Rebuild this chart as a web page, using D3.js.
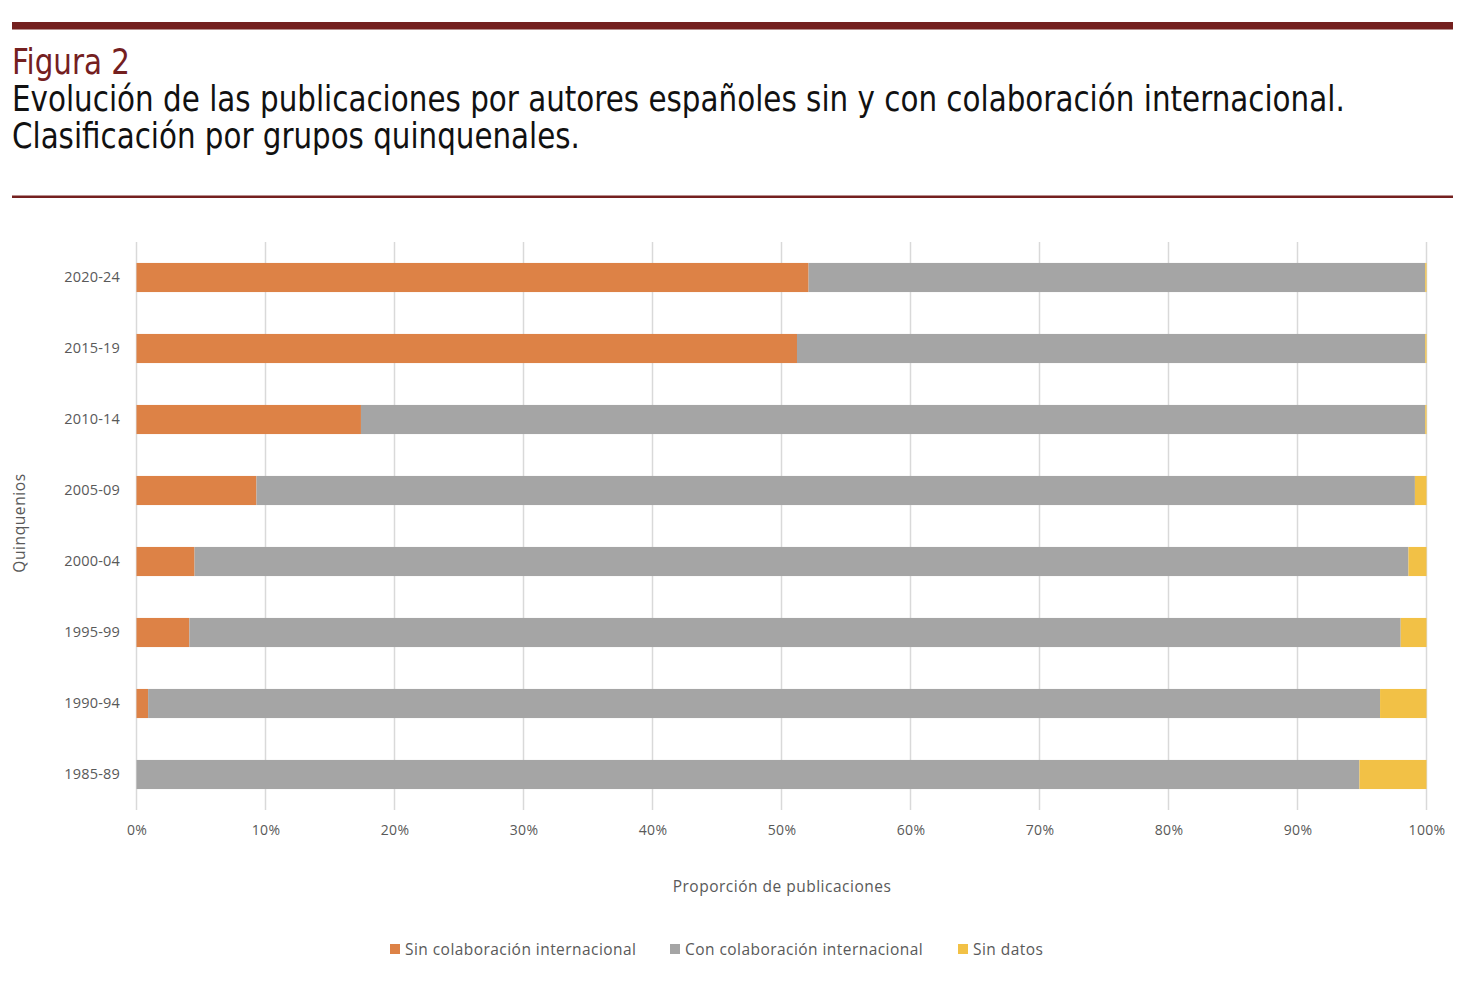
<!DOCTYPE html>
<html><head><meta charset="utf-8">
<script src="https://cdn.jsdelivr.net/npm/d3@7"></script>
<style>
html,body{margin:0;padding:0;background:#fff;}
svg{display:block;}
</style></head>
<body>
<svg id="chart" width="1464" height="984"></svg>
<script>
const categories = ["2020-24","2015-19","2010-14","2005-09","2000-04","1995-99","1990-94","1985-89"];
const sinColab = [52.1, 51.2, 17.4, 9.3, 4.5, 4.1, 0.9, 0.0];
const conColab = [47.8, 48.7, 82.5, 89.8, 94.1, 93.9, 95.5, 94.8];
const sinDatos = [0.1, 0.1, 0.1, 0.9, 1.4, 2.0, 3.6, 5.2];
const seriesNames = ["Sin colaboración internacional","Con colaboración internacional","Sin datos"];
const seriesColors = ["#dd8246","#a5a5a5","#f2c146"];
const xTicks = [0,10,20,30,40,50,60,70,80,90,100];

const svg = d3.select("#chart");
const dark = "#74201f";

// header rules
svg.append("rect").attr("x",12).attr("y",22).attr("width",1441).attr("height",7.5).attr("fill",dark);
svg.append("rect").attr("x",12).attr("y",195.5).attr("width",1441).attr("height",2.5).attr("fill",dark);

const titleFont = "'Liberation Sans Narrow','DejaVu Sans Condensed','Roboto Condensed',sans-serif";
function titleLine(str, yPos, w, color){
  const t = svg.append("text").attr("x",0).attr("y",0).attr("font-family",titleFont)
    .attr("font-size",36).attr("fill",color).text(str);
  const nat = t.node().getComputedTextLength();
  t.attr("transform",`translate(12,${yPos}) scale(${w/nat},1)`);
}
titleLine("Figura 2", 74, 118, dark);
titleLine("Evolución de las publicaciones por autores españoles sin y con colaboración internacional.", 111, 1333, "#111");
titleLine("Clasificación por grupos quinquenales.", 148, 568, "#111");

// chart
const x = d3.scaleLinear().domain([0,100]).range([136.5,1426.5]);
const y = d3.scaleBand().domain(categories).range([242,810]).paddingInner(0.59).paddingOuter(0.295);
const labelFont = "'Open Sans','Noto Sans',sans-serif";
const gray = "#595959";

// gridlines
svg.append("g").selectAll("line").data(xTicks).join("line")
  .attr("x1",d=>x(d)).attr("x2",d=>x(d)).attr("y1",242).attr("y2",810)
  .attr("stroke","#d9d9d9").attr("stroke-width",1.5);

const data = categories.map((c,i)=>({cat:c, v:[sinColab[i],conColab[i],sinDatos[i]]}));
const stacked = d3.stack().keys([0,1,2]).value((d,k)=>d.v[k])(data);

svg.append("g").selectAll("g").data(stacked).join("g")
  .attr("fill",(d,i)=>seriesColors[i])
  .selectAll("rect").data(d=>d).join("rect")
  .attr("x",d=>x(d[0])).attr("width",d=>Math.max(0,x(d[1])-x(d[0])))
  .attr("y",d=>y(d.data.cat)).attr("height",y.bandwidth());

// x axis labels
const xAxis = d3.axisBottom(x).tickValues(xTicks).tickFormat(d=>d+"%").tickSize(0).tickPadding(0);
const gx = svg.append("g").attr("transform","translate(0,825)").call(xAxis);
gx.select(".domain").remove();
gx.selectAll("text").attr("font-family",labelFont).attr("font-size",14).attr("letter-spacing",0.3).attr("fill",gray);

// y axis labels
const yAxis = d3.axisLeft(y).tickSize(0).tickPadding(0);
const gy = svg.append("g").attr("transform","translate(120,0)").call(yAxis);
gy.select(".domain").remove();
gy.selectAll("text").attr("font-family",labelFont).attr("font-size",14.5).attr("letter-spacing",0.2).attr("fill",gray);

// axis titles
svg.append("text").attr("x",782).attr("y",892).attr("text-anchor","middle")
  .attr("font-family",labelFont).attr("font-size",15.5).attr("letter-spacing",0.5).attr("fill",gray).text("Proporción de publicaciones");
svg.append("text").attr("transform","translate(25,523) rotate(-90)").attr("text-anchor","middle")
  .attr("font-family",labelFont).attr("font-size",15.5).attr("letter-spacing",0.6).attr("fill",gray).text("Quinquenios");

// legend
const legendX = [390, 670, 958];
const lg = svg.append("g").selectAll("g").data(seriesNames).join("g")
  .attr("transform",(d,i)=>`translate(${legendX[i]},949)`);
lg.append("rect").attr("x",0).attr("y",-5).attr("width",10).attr("height",10).attr("fill",(d,i)=>seriesColors[i]);
lg.append("text").attr("x",15).attr("y",5.5).attr("font-family",labelFont).attr("font-size",15.5)
  .attr("letter-spacing",0.45).attr("fill",gray).text(d=>d);
</script>
</body></html>
